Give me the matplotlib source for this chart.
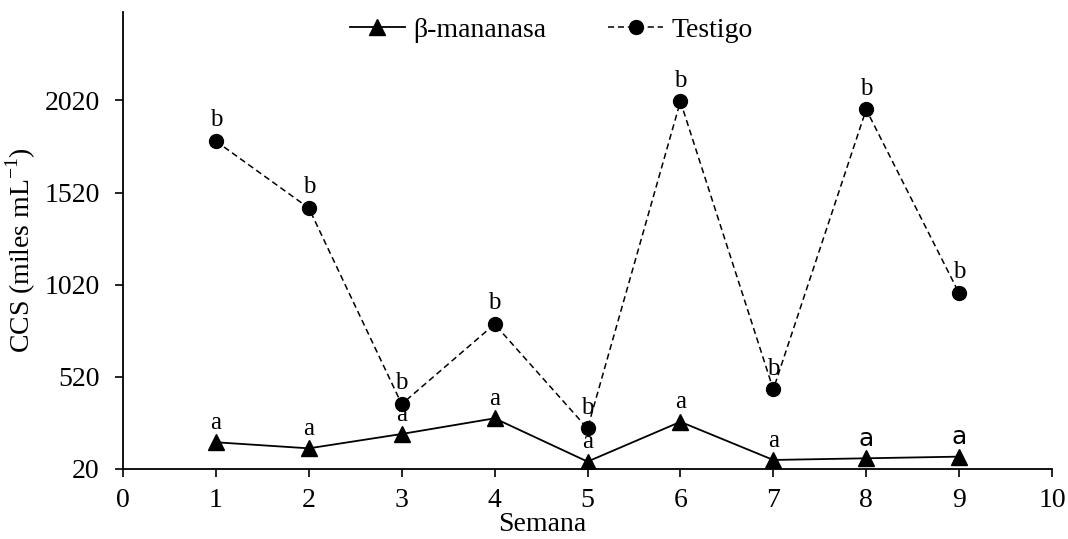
import matplotlib
matplotlib.use("Agg")
from matplotlib import pyplot as plt

# semanas y CCS (miles mL-1)
semana = [1, 2, 3, 4, 5, 6, 7, 8, 9]
mananasa = [165, 132, 210, 295, 60, 276, 69, 78, 87]
testigo = [1799, 1436, 372, 806, 240, 2015, 452, 1971, 974]
letras_mananasa = ["a", "a", "a", "a", "a", "a", "a", "a", "a"]
letras_testigo = ["b", "b", "b", "b", "b", "b", "b", "b", "b"]

plt.rcParams['font.family'] = ['Liberation Serif', 'DejaVu Serif']
plt.rcParams['mathtext.fontset'] = 'custom'
plt.rcParams['mathtext.rm'] = 'Liberation Serif'

fig = plt.figure(figsize=(10.68, 5.39), dpi=100)
ax = fig.add_axes([0.1152, 0.1299, 0.8698, 0.8478])

ax.plot(semana, mananasa, color='black', linewidth=1.3, marker='^',
        markersize=12, label='β-mananasa')
ax.plot(semana, testigo, color='black', linewidth=1.1, linestyle=(0, (4, 2.5)),
        marker='o', markersize=10, label='Testigo')

# letras de significancia
for x, y, l in zip(semana, mananasa, letras_mananasa):
    fam = ['DejaVu Sans'] if x in (8, 9) else ['Liberation Serif']
    ax.annotate(l, (x, y), xytext=(0, 14), textcoords='offset points',
                ha='center', va='center', fontsize=18, family=fam)
for x, y, l in zip(semana, testigo, letras_testigo):
    ax.annotate(l, (x, y), xytext=(0, 15), textcoords='offset points',
                ha='center', va='center', fontsize=18)

ax.set_xlim(0, 10)
ax.set_ylim(20, 2500)
ax.set_xticks(range(0, 11))
ax.set_yticks([20, 520, 1020, 1520, 2020])
ax.tick_params(labelsize=20, direction='out', length=5.8, width=1.2)
ax.tick_params(axis='x', pad=8)
ax.tick_params(axis='y', pad=11)
ax.spines['top'].set_visible(False)
ax.spines['right'].set_visible(False)
ax.spines['left'].set_linewidth(1.3)
ax.spines['bottom'].set_linewidth(1.3)

ax.set_xlabel("Semana", fontsize=20)
ax.xaxis.set_label_coords(0.451, -0.095)
ax.set_ylabel(r"CCS (miles mL$^{\mathregular{-1}}$)", fontsize=20)
ax.yaxis.set_label_coords(-0.092, 0.48)

ax.legend(loc='center', bbox_to_anchor=(0.461, 0.961), ncol=2, frameon=False,
          fontsize=20, handlelength=2.0, columnspacing=2.2, handletextpad=0.3)

plt.savefig("out.png", dpi=100)
